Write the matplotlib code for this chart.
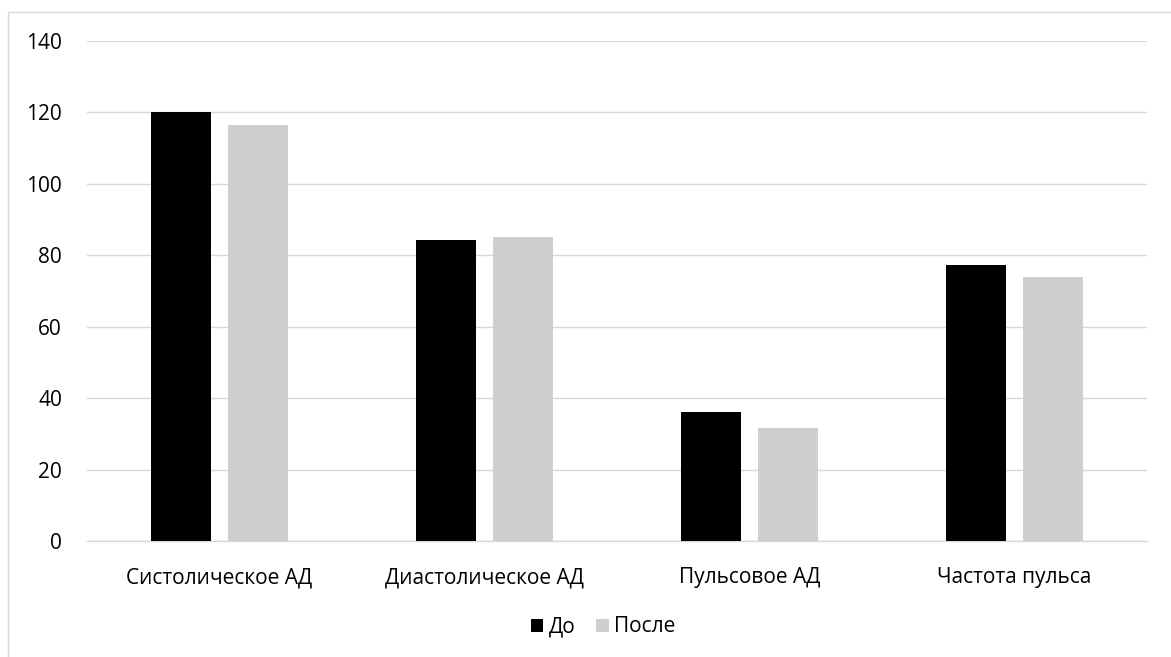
import matplotlib
matplotlib.use("Agg")
import matplotlib.pyplot as plt
import numpy as np
from matplotlib.patches import Rectangle

plt.rcParams['font.family'] = ['Open Sans', 'DejaVu Sans']

categories = ["Систолическое АД", "Диастолическое АД", "Пульсовое АД", "Частота пульса"]
before = [120, 84.2, 36.2, 77.3]
after = [116.4, 85.1, 31.7, 74.0]
series_names = ["До", "После"]
y_ticks = [0, 20, 40, 60, 80, 100, 120, 140]

FS = 15

fig = plt.figure(figsize=(11.71, 6.57), dpi=100)
fig.patches.append(Rectangle((8 / 1171, -0.1), 1.2, 1 - 12 / 657 + 0.1,
                             transform=fig.transFigure, fill=False,
                             edgecolor="#d9d9d9", linewidth=1.0))

ax = fig.add_axes([87 / 1171, 1 - 541 / 657, (1147 - 87) / 1171, (541 - 41) / 657])
x = np.arange(len(categories))
w = 0.226
off = 0.145
ax.bar(x - off, before, width=w, color="#000000", label=series_names[0], zorder=3)
ax.bar(x + off, after, width=w, color="#d0cece", label=series_names[1], zorder=3)

ax.set_xlim(-0.5, len(categories) - 0.5)
ax.set_ylim(0, 140)
ax.set_yticks(y_ticks)
ax.set_yticklabels([str(t) for t in y_ticks], fontsize=FS, color="#000000")
ax.set_xticks(x)
ax.set_xticklabels(categories, fontsize=FS, color="#000000")
ax.tick_params(axis='both', length=0)
ax.tick_params(axis='y', pad=18)
ax.tick_params(axis='x', pad=19)
ax.grid(axis='y', color="#d9d9d9", linewidth=1.0, zorder=0)
for s in ["top", "right", "left"]:
    ax.spines[s].set_visible(False)
ax.spines["bottom"].set_color("#d9d9d9")
ax.spines["bottom"].set_linewidth(1.0)

leg = fig.legend(loc="center", bbox_to_anchor=(603 / 1171, 1 - 627 / 657), ncol=2,
                 frameon=False, fontsize=FS, handlelength=0.6, handleheight=0.6,
                 handletextpad=0.25, columnspacing=1.0)

fig.savefig("out.png", dpi=100)
